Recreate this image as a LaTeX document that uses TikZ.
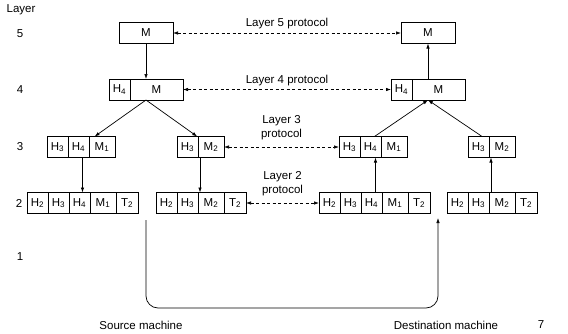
\documentclass[tikz,border=0pt]{standalone}
\usepackage{fontspec}
\setmainfont{Liberation Sans}
\usetikzlibrary{arrows.meta, positioning, fit, calc}

\begin{document}
\begin{tikzpicture}[x=1pt, y=-1pt,
    font=\fontsize{11.5}{14.5}\selectfont,
    cell/.style={draw, line width=0.8pt, minimum width=21pt, minimum height=21pt,
      inner sep=0pt, outer sep=0pt},
    wcell/.style={cell, minimum width=26pt},
    box/.style={inner sep=0pt, outer sep=0pt, fit=#1},
    arr/.style={-{Latex[length=5pt, width=3.5pt]}, line width=0.7pt},
    proto/.style={{Latex[length=5pt, width=3.5pt]}-{Latex[length=5pt, width=3.5pt]},
      dash pattern=on 3pt off 2.5pt, line width=0.7pt},
  ]
    \useasboundingbox (0,0) rectangle (568,333);

    % layer numbers
    \node (lyr) at (21,10) {Layer};
    \node (n5) at (20,34) {5};
    \node (n4) at (20,90) {4};
    \node (n3) at (20,147) {3};
    \node (n2) at (19,203) {2};
    \node (n1) at (20,257) {1};

    % layer 5
    \node[cell, minimum width=54pt] (src5) at (146,33) {M};
    \node[cell, minimum width=54pt] (dst5) at (428,33) {M};

    % layer 4
    \node[cell] (src4h) at (119.5,89.5) {H\textsubscript{4}};
    \node[cell, minimum width=53pt, right=0pt of src4h] (src4m) {M};
    \node[box={(src4h)(src4m)}] (src4) {};
    \node[cell] (dst4h) at (401.5,89.5) {H\textsubscript{4}};
    \node[cell, minimum width=53pt, right=0pt of dst4h] (dst4m) {M};
    \node[box={(dst4h)(dst4m)}] (dst4) {};

    % layer 3
    \node[cell] (src3a1) at (57.5,147) {H\textsubscript{3}};
    \node[cell, right=0pt of src3a1] (src3a2) {H\textsubscript{4}};
    \node[wcell, right=0pt of src3a2] (src3a3) {M\textsubscript{1}};
    \node[box={(src3a1)(src3a3)}] (src3a) {};
    \node[cell] (src3b1) at (187.5,147) {H\textsubscript{3}};
    \node[wcell, right=0pt of src3b1] (src3b2) {M\textsubscript{2}};
    \node[box={(src3b1)(src3b2)}] (src3b) {};
    \node[cell] (dst3a1) at (349.5,147) {H\textsubscript{3}};
    \node[cell, right=0pt of dst3a1] (dst3a2) {H\textsubscript{4}};
    \node[wcell, right=0pt of dst3a2] (dst3a3) {M\textsubscript{1}};
    \node[box={(dst3a1)(dst3a3)}] (dst3a) {};
    \node[cell] (dst3b1) at (478.5,147) {H\textsubscript{3}};
    \node[wcell, right=0pt of dst3b1] (dst3b2) {M\textsubscript{2}};
    \node[box={(dst3b1)(dst3b2)}] (dst3b) {};

    % layer 2
    \node[cell] (src2a1) at (37.5,203) {H\textsubscript{2}};
    \node[cell, right=0pt of src2a1] (src2a2) {H\textsubscript{3}};
    \node[cell, right=0pt of src2a2] (src2a3) {H\textsubscript{4}};
    \node[wcell, right=0pt of src2a3] (src2a4) {M\textsubscript{1}};
    \node[cell, minimum width=22pt, right=0pt of src2a4] (src2a5) {T\textsubscript{2}};
    \node[box={(src2a1)(src2a5)}] (src2a) {};
    \node[cell] (src2b1) at (166.5,203) {H\textsubscript{2}};
    \node[cell, right=0pt of src2b1] (src2b2) {H\textsubscript{3}};
    \node[wcell, right=0pt of src2b2] (src2b3) {M\textsubscript{2}};
    \node[cell, minimum width=22pt, right=0pt of src2b3] (src2b4) {T\textsubscript{2}};
    \node[box={(src2b1)(src2b4)}] (src2b) {};
    \node[cell] (dst2a1) at (329.5,203) {H\textsubscript{2}};
    \node[cell, right=0pt of dst2a1] (dst2a2) {H\textsubscript{3}};
    \node[cell, right=0pt of dst2a2] (dst2a3) {H\textsubscript{4}};
    \node[wcell, right=0pt of dst2a3] (dst2a4) {M\textsubscript{1}};
    \node[cell, minimum width=22pt, right=0pt of dst2a4] (dst2a5) {T\textsubscript{2}};
    \node[box={(dst2a1)(dst2a5)}] (dst2a) {};
    \node[cell] (dst2b1) at (457.5,203) {H\textsubscript{2}};
    \node[cell, right=0pt of dst2b1] (dst2b2) {H\textsubscript{3}};
    \node[wcell, right=0pt of dst2b2] (dst2b3) {M\textsubscript{2}};
    \node[cell, minimum width=22pt, right=0pt of dst2b3] (dst2b4) {T\textsubscript{2}};
    \node[box={(dst2b1)(dst2b4)}] (dst2b) {};

    % source side, going down
    \draw[arr] (src5) -- (src4);
    \draw[arr] (src4.south) -- ($(src3a.north west)!0.7!(src3a.north east)$);
    \draw[arr] (src4.south) -- ($(src3b.north west)!0.43!(src3b.north east)$);
    \draw[arr] ([xshift=4pt]src3a2.south) -- ([xshift=4pt]src3a2.south |- src2a.north);
    \draw[arr] ([xshift=2pt]src3b2.south west) -- ([xshift=2pt]src3b2.south west |- src2b.north);

    % destination side, going up
    \draw[arr] ([xshift=4pt]dst2a3.north) -- ([xshift=4pt]dst2a3.north |- dst3a.south);
    \draw[arr] ([xshift=2pt]dst2b3.north west) -- ([xshift=2pt]dst2b3.north west |- dst3b.south);
    \draw[arr] ([xshift=4pt]dst3a2.north) -- (dst4.south);
    \draw[arr] ($(dst3b.north west)!0.3!(dst3b.north east)$) -- (dst4.south);
    \draw[arr] (dst4) -- (dst5);

    % peer protocols
    \draw[proto] (src5) -- (dst5) node[midway, above] {Layer 5 protocol};
    \draw[proto] (src4) -- (dst4) node[midway, above] {Layer 4 protocol};
    \draw[proto] (src3b) -- (dst3a) node[midway, above=3pt, align=center] {Layer 3\\protocol};
    \draw[proto] (src2b) -- (dst2a) node[midway, above=3pt, align=center] {Layer 2\\protocol};

    % physical medium
    \coordinate (txd) at (146,220);
    \coordinate (wire) at (292,308);
    \coordinate (rxd) at (438,218);
    \draw[arr, rounded corners=12pt] (txd) |- (wire) -| (rxd);

    \node (srcm) at (141,325) {Source machine};
    \node (dstm) at (446,325) {Destination machine};
    \node (pg) at (541,325) {7};
  \end{tikzpicture}
\end{document}
